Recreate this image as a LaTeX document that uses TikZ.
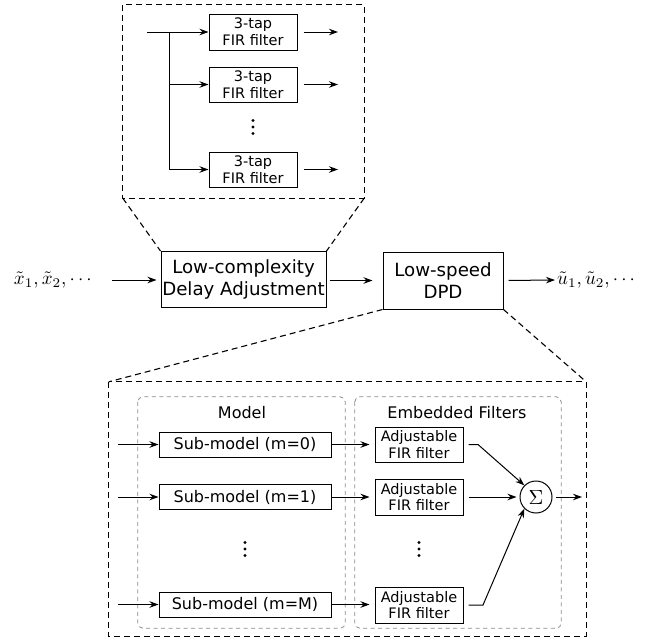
\documentclass[tikz,border=0pt]{standalone}
\usepackage{graphicx}
\usepackage{fontspec}
\setmainfont{DejaVu Sans}
\usetikzlibrary{arrows.meta}
\begin{document}
\begin{tikzpicture}[x=1pt,y=-1pt,
  blk/.style={draw=black, line width=1pt, inner sep=0pt, align=center},
  bigtxt/.style={font=\fontsize{18.2}{22}\selectfont},
  firtxt/.style={font=\fontsize{14.5}{17}\selectfont},
  subtxt/.style={font=\fontsize{16}{19}\selectfont},
  adjtxt/.style={font=\fontsize{14.5}{16.5}\selectfont},
  arr/.style={line width=1pt, -{Stealth[length=9pt,width=6.5pt]}},
  ln/.style={line width=1pt},
  bdash/.style={line width=1.1pt, dash pattern=on 6pt off 4pt},
  gdash/.style={draw=black!45, line width=0.8pt, dash pattern=on 4pt off 3.5pt, rounded corners=5pt},
  vdot/.style={fill=black}
]
\useasboundingbox (0,0) rectangle (670,637);

% ---------- top zoom box ----------
\node[draw=none, minimum width=241pt, minimum height=193pt, inner sep=0pt] (topbox) at (243.5,101.5) {};
\draw[bdash] (topbox.north west) rectangle (topbox.south east);

\node[blk, firtxt, minimum width=88pt, minimum height=36pt] (f1) at (253,32) {3-tap\\FIR filter};
\node[blk, firtxt, minimum width=88pt, minimum height=35pt] (f2) at (253,84.5) {3-tap\\FIR filter};
\node[blk, firtxt, minimum width=88pt, minimum height=35pt] (f3) at (253,169.5) {3-tap\\FIR filter};
\foreach \dy in {-6.5,0,6.5} \fill[vdot] (253,127+\dy) circle (1.6pt);

\coordinate (fin) at (147,32);
\coordinate (fbr) at (169,32);
\coordinate (fbot) at (169,169.5);
\coordinate (fo1) at (338,32);
\coordinate (fo2) at (338,84.5);
\coordinate (fo3) at (338,169.5);
\draw[ln] (fin) -- (fbr) -- (fbot);
\draw[arr] (fbr) -- (f1.west);
\draw[arr] (fbr |- f2.west) -- (f2.west);
\draw[arr] (fbot) -- (f3.west);
\draw[arr, shorten <=6pt] (f1.east) -- (fo1);
\draw[arr, shorten <=6pt] (f2.east) -- (fo2);
\draw[arr, shorten <=6pt] (f3.east) -- (fo3);

% ---------- main row ----------
\node[blk, bigtxt, minimum width=165pt, minimum height=56pt] (lcda) at (243.5,279.5) {Low-complexity\\Delay Adjustment};
\node[blk, bigtxt, minimum width=120pt, minimum height=57pt] (dpd) at (443,280.5) {Low-speed\\DPD};
\node[inner sep=0pt, anchor=east] (xin) at (92,280) {\scalebox{1.9}{$\tilde{x}_1,\tilde{x}_2,\cdots$}};
\node[inner sep=0pt, anchor=west] (uout) at (557,280) {\scalebox{1.9}{$\tilde{u}_1,\tilde{u}_2,\cdots$}};

\draw[arr, shorten <=20pt, shorten >=4pt] (xin.east) -- (xin.east -| lcda.west);
\draw[arr, shorten <=3pt, shorten >=10pt] (lcda.east |- dpd.west) -- (dpd.west);
\draw[arr, shorten <=5pt, shorten >=2pt] (dpd.east) -- (uout.west);

\draw[bdash] (topbox.south west) -- (lcda.north west);
\draw[bdash] (topbox.south east) -- (lcda.north east);

% ---------- bottom zoom box ----------
\node[draw=none, minimum width=477pt, minimum height=254pt, inner sep=0pt] (botbox) at (347.5,509) {};
\draw[bdash] (botbox.north west) rectangle (botbox.south east);
\draw[bdash] (dpd.south west) -- (botbox.north west);
\draw[bdash] (dpd.south east) -- (botbox.north east);

\node[minimum width=207pt, minimum height=231pt, inner sep=0pt] (modelbox) at (241.5,512.5) {};
\draw[gdash] (modelbox.north west) rectangle (modelbox.south east);
\node[minimum width=206pt, minimum height=231pt, inner sep=0pt] (embbox) at (458,512.5) {};
\draw[gdash] (embbox.north west) rectangle (embbox.south east);

\node[subtxt, inner sep=0pt] (modellbl) at (242,413) {Model};
\node[subtxt, inner sep=0pt] (emblbl) at (457,413) {Embedded Filters};

\node[blk, subtxt, minimum width=172pt, minimum height=25pt] (s0) at (245,444.5) {Sub-model (m=0)};
\node[blk, subtxt, minimum width=172pt, minimum height=25pt] (s1) at (245,497) {Sub-model (m=1)};
\node[blk, subtxt, minimum width=172pt, minimum height=25pt] (sM) at (245,604.5) {Sub-model (m=M)};
\foreach \dy in {-6.5,0,6.5} \fill[vdot] (245,549+\dy) circle (1.6pt);

\node[blk, adjtxt, minimum width=88pt, minimum height=35pt] (a0) at (419,444.5) {Adjustable\\FIR filter};
\node[blk, adjtxt, minimum width=88pt, minimum height=36pt] (a1) at (419,497) {Adjustable\\FIR filter};
\node[blk, adjtxt, minimum width=88pt, minimum height=36pt] (aM) at (419,605) {Adjustable\\FIR filter};
\foreach \dy in {-6.5,0,6.5} \fill[vdot] (419,549+\dy) circle (1.6pt);

\node[draw=black, line width=1pt, circle, minimum size=32pt, inner sep=0pt] (sum) at (536,497) {\scalebox{2.05}{$\Sigma$}};

\coordinate (i0) at (118,444.5);
\coordinate (i1) at (118,497);
\coordinate (iM) at (118,604.5);
\draw[arr] (i0) -- (s0.west);
\draw[arr] (i1) -- (s1.west);
\draw[arr] (iM) -- (sM.west);

\draw[arr, shorten >=5pt] (s0.east) -- (s0.east -| a0.west);
\draw[arr, shorten >=5pt] (s1.east) -- (s1.east -| a1.west);
\draw[arr, shorten >=5pt] (sM.east) -- (sM.east -| aM.west);

\coordinate (k0) at (478,444.5);
\coordinate (kM) at (483,605);
\draw[arr, shorten <=5pt] (a0.east) -- (k0) -- (sum.north west);
\draw[arr, shorten <=5pt, shorten >=3pt] (a1.east) -- (sum.west);
\draw[arr, shorten <=5pt] (aM.east) -- (kM) -- (sum.south west);

\coordinate (so) at (582,497);
\draw[arr, shorten <=3pt] (sum.east) -- (so);
\end{tikzpicture}
\end{document}
